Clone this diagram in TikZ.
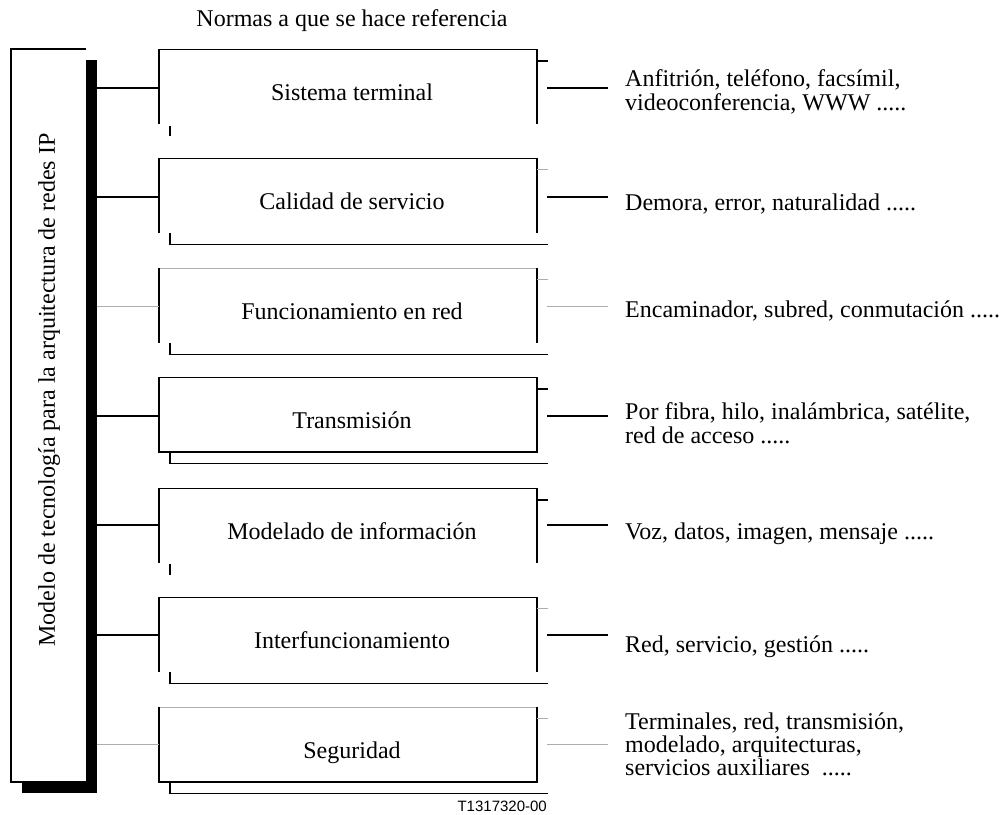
\documentclass[tikz,border=0pt]{standalone}
\usepackage{fontspec}
\setmainfont{Liberation Serif}
\setsansfont{Liberation Sans}
\begin{document}
\begin{tikzpicture}[x=1pt,y=-1pt,
  edge/.style={line width=1.4pt},
  faint/.style={line width=0.8pt, draw=black!32},
  link/.style={line width=2.4pt},
  faintlink/.style={line width=0.8pt, draw=black!32},
  boxnode/.style={minimum width=378pt, minimum height=74.5pt, inner sep=0pt, outer sep=0pt},
  framebox/.style={minimum width=75pt, minimum height=733pt, inner sep=0pt, outer sep=0pt},
  lbl/.style={font=\fontsize{24}{26}\selectfont, anchor=base, inner sep=0pt},
  note/.style={font=\fontsize{24}{24}\selectfont, align=left, anchor=base west, inner sep=0pt},
]
\useasboundingbox (0,0) rectangle (1003,814);

% left frame with its heavy shadow
\node[framebox, fill=black] (frameshadow) at (59.5,426.5) {};
\node[framebox, fill=white] (frame) at (48.5,415.5) {};
\draw[edge] (frame.north east) -- (frame.north west) -- (frame.south west) -- (frame.south east);
\node[font=\fontsize{24}{26}\selectfont, rotate=90, inner sep=0pt] (model) at (49,390)
  {Modelo de tecnología para la arquitectura de redes IP};

% heading and figure number
\node[lbl] (heading) at (352,26) {Normas a que se hace referencia};
\node[font=\sffamily\fontsize{15}{16}\selectfont, anchor=base east, inner sep=0pt] (fignum) at (547,811) {T1317320-00};

% the seven boxes
\node[boxnode] (b1) at (348,86.55) {};
\node[boxnode] (b2) at (348,195.55) {};
\node[boxnode] (b3) at (348,305.55) {};
\node[boxnode] (b4) at (348,414.55) {};
\node[boxnode] (b5) at (348,525.55) {};
\node[boxnode] (b6) at (348,634.55) {};
\node[boxnode] (b7) at (348,744.55) {};

\node[lbl] (l1) at (352,100.3) {Sistema terminal};
\node[lbl] (l2) at (352,209.3) {Calidad de servicio};
\node[lbl] (l3) at (352,319.3) {Funcionamiento en red};
\node[lbl] (l4) at (352,428.3) {Transmisión};
\node[lbl] (l5) at (352,539.3) {Modelado de información};
\node[lbl] (l6) at (352,648.3) {Interfuncionamiento};
\node[lbl] (l7) at (352,758.3) {Seguridad};

% box 1
\draw[edge] (b1.south west) -- (b1.north west) -- (b1.north east) -- (b1.south east);
\draw[edge] ([shift={(0,11.5)}]b1.north east) -- ([shift={(11,11.5)}]b1.north east);
\draw[edge] ([shift={(11,2)}]b1.south west) -- ([shift={(11,12)}]b1.south west);
% box 2
\draw[edge] (b2.south west) -- (b2.north west) -- (b2.north east) -- (b2.south east);
\draw[faint] ([shift={(0,11.5)}]b2.north east) -- ([shift={(11,11.5)}]b2.north east);
\draw[edge] ([shift={(11,0)}]b2.south west) -- ([shift={(11,11.5)}]b2.south west) -- ([shift={(11,11.5)}]b2.south east);
% box 3
\draw[faint] (b3.north west) -- (b3.north east);
\draw[edge] (b3.north west) -- (b3.south west);
\draw[edge] (b3.north east) -- (b3.south east);
\draw[faint] ([shift={(0,11.5)}]b3.north east) -- ([shift={(11,11.5)}]b3.north east);
\draw[edge] ([shift={(11,0)}]b3.south west) -- ([shift={(11,11.5)}]b3.south west) -- ([shift={(11,11.5)}]b3.south east);
% box 4
\draw[edge] (b4.north west) rectangle (b4.south east);
\draw[edge] ([shift={(0,11.5)}]b4.north east) -- ([shift={(11,11.5)}]b4.north east);
\draw[edge] ([shift={(11,0)}]b4.south west) -- ([shift={(11,11.5)}]b4.south west) -- ([shift={(11,11.5)}]b4.south east);
% box 5
\draw[edge] (b5.south west) -- (b5.north west) -- (b5.north east) -- (b5.south east);
\draw[edge] ([shift={(0,11.5)}]b5.north east) -- ([shift={(11,11.5)}]b5.north east);
\draw[edge] ([shift={(11,1.5)}]b5.south west) -- ([shift={(11,12)}]b5.south west);
% box 6
\draw[edge] (b6.south west) -- (b6.north west) -- (b6.north east) -- (b6.south east);
\draw[faint] ([shift={(0,11.5)}]b6.north east) -- ([shift={(11,11.5)}]b6.north east);
\draw[edge] ([shift={(11,0)}]b6.south west) -- ([shift={(11,11.5)}]b6.south west) -- ([shift={(11,11.5)}]b6.south east);
% box 7
\draw[faint] (b7.north west) -- (b7.north east);
\draw[edge] (b7.north west) -- (b7.south west) -- (b7.south east) -- (b7.north east);
\draw[faint] ([shift={(0,11.5)}]b7.north east) -- ([shift={(11,11.5)}]b7.north east);
\draw[edge] ([shift={(11,0)}]b7.south west) -- ([shift={(11,11.5)}]b7.south west) -- ([shift={(11,11.5)}]b7.south east);

% descriptions on the right (base anchor sits on the last line)
\node[note] (n1) at (625,110) {Anfitrión, teléfono, facsímil,\\videoconferencia, WWW .....};
\node[note] (n2) at (625,210.5) {Demora, error, naturalidad .....};
\node[note] (n3) at (625,317) {Encaminador, subred, conmutación .....};
\node[note] (n4) at (625,443.5) {Por fibra, hilo, inalámbrica, satélite,\\red de acceso .....};
\node[note] (n5) at (625,539.5) {Voz, datos, imagen, mensaje .....};
\node[note] (n6) at (625,652) {Red, servicio, gestión .....};
\node[note, font=\fontsize{24}{23}\selectfont] (n7) at (625,775.5) {Terminales, red, transmisión,\\modelado, arquitecturas,\\servicios auxiliares\ \ .....};

% free ends of the right-hand connectors
\coordinate (e1) at (608,87.7);
\coordinate (e2) at (608,196.7);
\coordinate (e3) at (608,306);
\coordinate (e4) at (608,415.7);
\coordinate (e5) at (608,525);
\coordinate (e6) at (608,635);
\coordinate (e7) at (608,744.3);

% connectors: heavy bar to boxes, boxes to descriptions
\draw[link] (frameshadow.east |- e1) -- (b1.west |- e1);
\draw[link] (frameshadow.east |- e2) -- (b2.west |- e2);
\draw[faintlink] (frameshadow.east |- e3) -- (b3.west |- e3);
\draw[link] (frameshadow.east |- e4) -- (b4.west |- e4);
\draw[link] (frameshadow.east |- e5) -- (b5.west |- e5);
\draw[link] (frameshadow.east |- e6) -- (b6.west |- e6);
\draw[faintlink] (frameshadow.east |- e7) -- (b7.west |- e7);

\draw[link] ([xshift=10pt]b1.east |- e1) -- (e1);
\draw[link] ([xshift=10pt]b2.east |- e2) -- (e2);
\draw[faintlink] ([xshift=10pt]b3.east |- e3) -- (e3);
\draw[link] ([xshift=10pt]b4.east |- e4) -- (e4);
\draw[link] ([xshift=10pt]b5.east |- e5) -- (e5);
\draw[link] ([xshift=10pt]b6.east |- e6) -- (e6);
\draw[faintlink] ([xshift=10pt]b7.east |- e7) -- (e7);
\end{tikzpicture}
\end{document}
